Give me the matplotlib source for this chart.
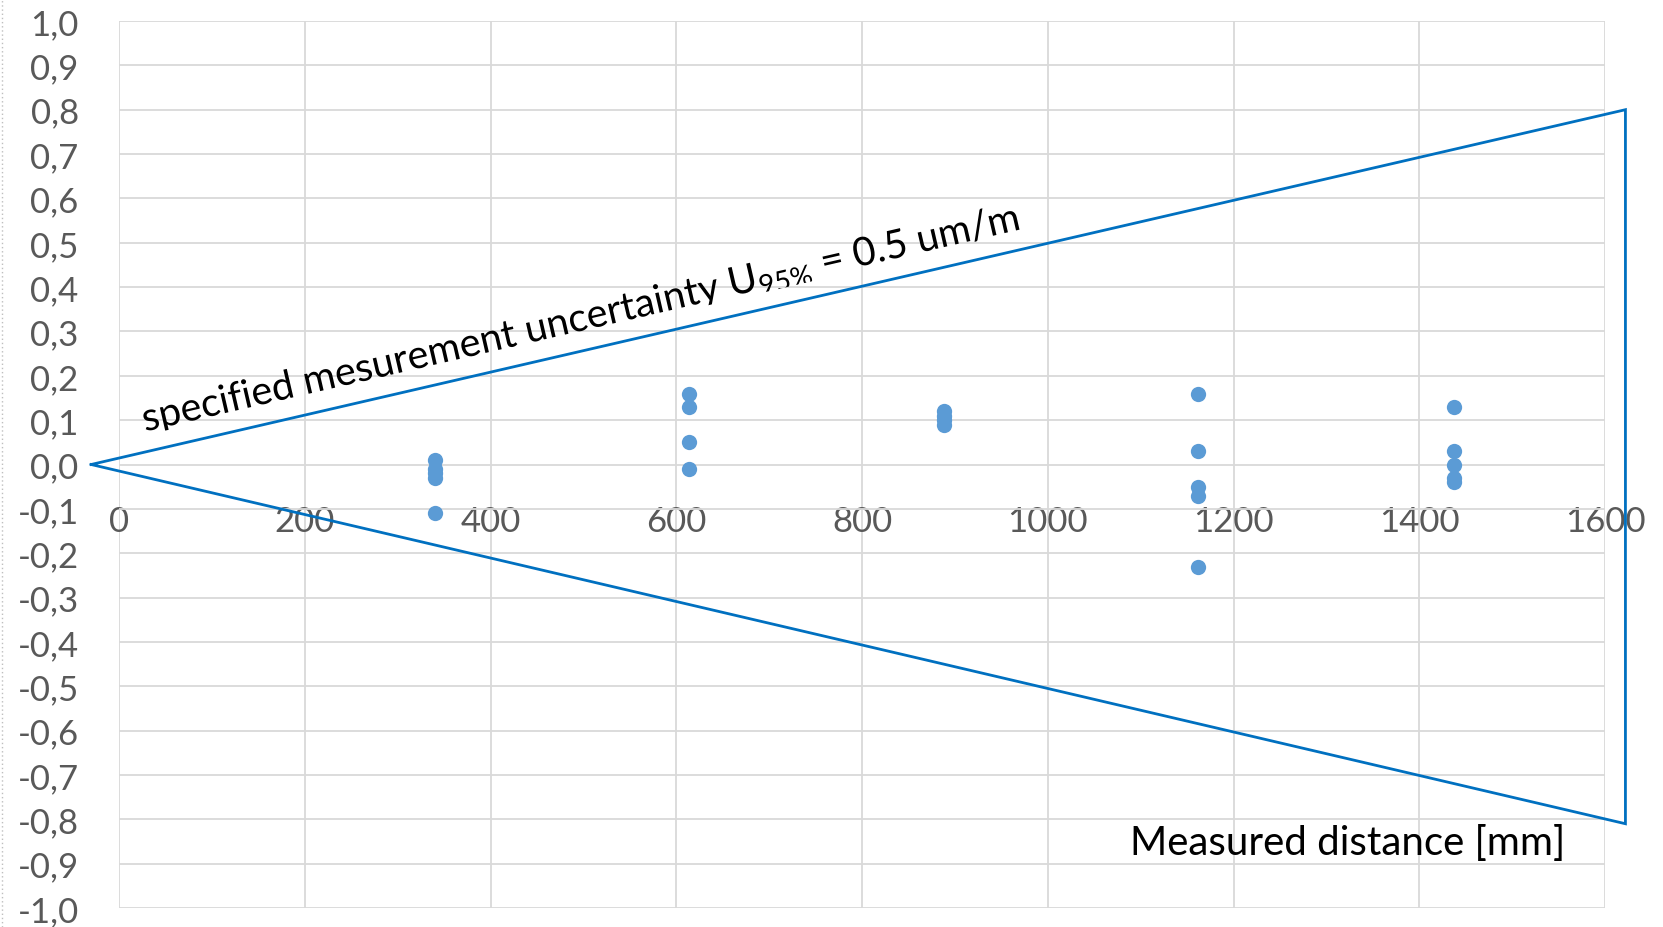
import matplotlib
matplotlib.use("Agg")
import matplotlib.pyplot as plt
import matplotlib.transforms as mtransforms
from matplotlib.patches import Polygon, PathPatch
from matplotlib.lines import Line2D
from matplotlib.textpath import TextPath
from matplotlib.font_manager import FontProperties

# ---- data ----
dist_mm = [340, 340, 340, 340, 340,
           614, 614, 614, 614,
           888, 888, 888, 888,
           1162, 1162, 1162, 1162, 1162,
           1437, 1437, 1437, 1437, 1437]
deviation_um = [0.01, -0.01, -0.02, -0.03, -0.11,
                0.16, 0.13, 0.05, -0.01,
                0.12, 0.11, 0.10, 0.09,
                0.16, 0.03, -0.05, -0.07, -0.23,
                0.13, 0.03, 0.00, -0.03, -0.04]
# uncertainty wedge outline (apex, upper right, lower right, apex)
wedge_x = [-30, 1622, 1622, -30]
wedge_y = [0.0, 0.80, -0.81, 0.0]

x_ticks = [0, 200, 400, 600, 800, 1000, 1200, 1400, 1600]
y_ticks = [round(-1.0 + 0.1 * i, 1) for i in range(21)]
y_labels = [f"{v:.1f}".replace(".", ",") for v in y_ticks]

label_text = "specified mesurement uncertainty U$_{95\\%}$ = 0.5 um/m"
xlabel_text = "Measured distance [mm]"

FONT = "Lato"
plt.rcParams["font.family"] = [FONT, "DejaVu Sans"]
plt.rcParams["mathtext.fontset"] = "custom"
plt.rcParams["mathtext.rm"] = FONT
plt.rcParams["mathtext.it"] = FONT
plt.rcParams["mathtext.default"] = "regular"

W, H = 1663, 928
DPI = 100
fig = plt.figure(figsize=(W / DPI, H / DPI), dpi=DPI)
ax = fig.add_axes([119 / W, 1 - 909 / H, (1605 - 119) / W, (909 - 22) / H])

ax.set_xlim(0, 1600)
ax.set_ylim(-1.0, 1.0)
ax.set_xticks(x_ticks)
ax.set_yticks(y_ticks)
ax.set_yticklabels(y_labels)
ax.grid(True, color="#d9d9d9", linewidth=1.3)
ax.set_axisbelow(True)
for s in ["top", "right", "left"]:
    ax.spines[s].set_visible(False)
ax.spines["bottom"].set_position(("data", 0))
ax.spines["bottom"].set_visible(False)
ax.tick_params(axis="both", length=0, labelsize=25, labelcolor="#595959")
ax.tick_params(axis="x", pad=29)
ax.tick_params(axis="y", pad=29)

# wedge
ax.plot(wedge_x, wedge_y, color="#0070C0", linewidth=2, clip_on=False,
        solid_joinstyle="miter", zorder=3)

# data points
ax.plot(dist_mm, deviation_um, linestyle="none", marker="o", markersize=11,
        color="#5B9BD5", markeredgewidth=0, zorder=4)

# rotated label, drawn as a path so it can be clipped just below its baseline
x0, y0 = 28, 0.074
ang = 13.0
anchor = mtransforms.ScaledTranslation(x0, y0, ax.transData)
tp = TextPath((0, 0), label_text, size=28.5, prop=FontProperties(family=FONT))
text_tr = mtransforms.Affine2D().scale(DPI / 72).rotate_deg(ang) + anchor
label_patch = PathPatch(tp, transform=text_tr, facecolor="black",
                        edgecolor="none", zorder=5)
ax.add_artist(label_patch)
clip_poly = Polygon([(-50, -3.5), (2000, -3.5), (2000, 200), (-50, 200)],
                    closed=True,
                    transform=mtransforms.Affine2D().rotate_deg(ang) + anchor,
                    facecolor="none")
label_patch.set_clip_on(True)
label_patch.set_clip_path(clip_poly)

ax.text(1557, -0.852, xlabel_text, fontsize=29, ha="right", va="center", color="black")

# dotted edge line at the very left of the picture
fig.add_artist(Line2D([0.0015, 0.0015], [0, 1], transform=fig.transFigure,
                      color="#bfbfbf", linestyle=(0, (1, 2)), linewidth=1))

fig.savefig("out.png", dpi=DPI)
